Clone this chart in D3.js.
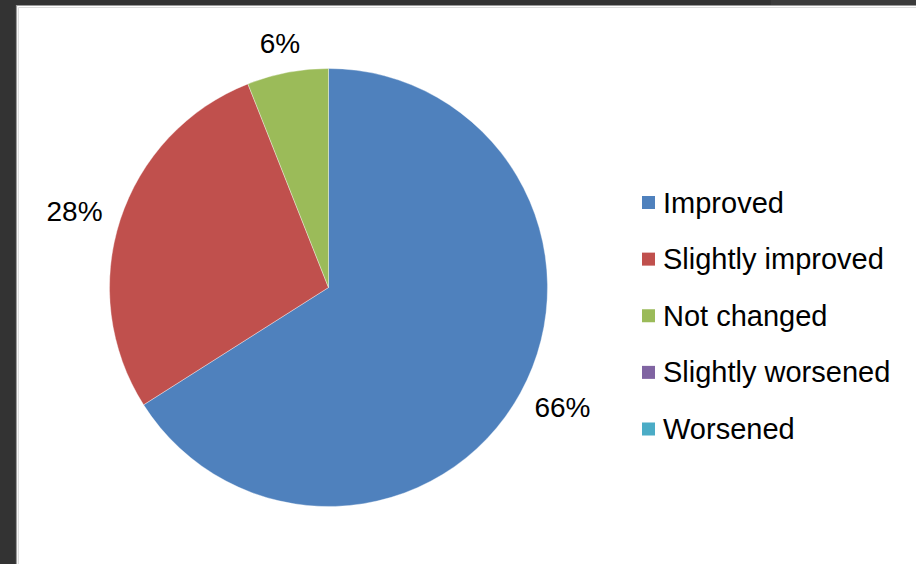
<!DOCTYPE html>
<html>
<head>
<meta charset="utf-8">
<script src="https://cdn.jsdelivr.net/npm/d3@7"></script>
<style>
  html, body { margin: 0; padding: 0; background: #333333; }
  svg { display: block; }
</style>
</head>
<body>
<svg id="chart" width="916" height="564"></svg>
<script>
// Survey outcome shares (percent)
const categories = ["Improved", "Slightly improved", "Not changed", "Slightly worsened", "Worsened"];
const values = [66, 28, 6, 0, 0];
const colors = ["#4F81BD", "#C0504D", "#9BBB59", "#8064A2", "#4BACC6"];

const W = 916, H = 564;
const svg = d3.select("#chart");

// dark frame strip on top, lighter to the right
svg.append("rect").attr("x", 0).attr("y", 0).attr("width", W).attr("height", H).attr("fill", "#333333");
svg.append("rect").attr("x", 771).attr("y", 0).attr("width", W - 771).attr("height", 5).attr("fill", "#3b3b3b");

// white chart panel with a soft grey edge
svg.append("rect").attr("x", 16).attr("y", 5).attr("width", W - 16).attr("height", H - 5).attr("fill", "#ffffff");
svg.append("path").attr("d", `M16.5,${H} V5.5 H${W}`).attr("fill", "none").attr("stroke", "#9a9a9a").attr("stroke-width", 1.2);
svg.append("path").attr("d", `M18.5,${H} V7.5 H${W}`).attr("fill", "none").attr("stroke", "#dcdcdc").attr("stroke-width", 1);

const cx = 328.5, cy = 287.5, R = 219;
const font = "'Liberation Sans', Arial, sans-serif";

const pie = d3.pie().value(d => d.value).sort(null);
const data = categories.map((c, i) => ({ name: c, value: values[i], color: colors[i] }));
const arcs = pie(data);
const arc = d3.arc().innerRadius(0).outerRadius(R);

const g = svg.append("g").attr("transform", `translate(${cx},${cy})`);
g.selectAll("path.slice")
  .data(arcs.filter(a => a.value > 0))
  .join("path")
  .attr("class", "slice")
  .attr("d", arc)
  .attr("fill", d => d.data.color)
  .attr("stroke", "rgba(255,255,255,0.45)")
  .attr("stroke-width", 0.8);

// percentage labels placed just outside each slice
const labelSize = 28, gap = 20;
arcs.filter(a => a.value > 0).forEach(a => {
  const mid = (a.startAngle + a.endAngle) / 2;
  const s = Math.sin(mid), c = Math.cos(mid);
  const t = g.append("text")
    .attr("font-family", font)
    .attr("font-size", labelSize)
    .attr("fill", "#000")
    .attr("text-anchor", "middle")
    .text(d3.format(".0%")(a.value / 100));
  const w = t.node().getComputedTextLength();
  const capH = labelSize * 0.716;
  const rr = R + gap;
  const x = rr * s + (w / 2) * s;
  const y = -rr * c - (capH / 2) * c;
  t.attr("x", x).attr("y", y + capH / 2);
});

// legend
const legend = svg.append("g").attr("transform", "translate(642,0)");
const rowY = d3.scalePoint().domain(categories).range([202.5, 429]);
const rows = legend.selectAll("g.row").data(data).join("g")
  .attr("class", "row")
  .attr("transform", d => `translate(0,${rowY(d.name)})`);
rows.append("rect")
  .attr("x", 0).attr("y", -6.5).attr("width", 13).attr("height", 13)
  .attr("fill", d => d.color);
rows.append("text")
  .attr("x", 21).attr("y", 10)
  .attr("font-family", font)
  .attr("font-size", 29)
  .attr("fill", "#000")
  .text(d => d.name);
</script>
</body>
</html>
